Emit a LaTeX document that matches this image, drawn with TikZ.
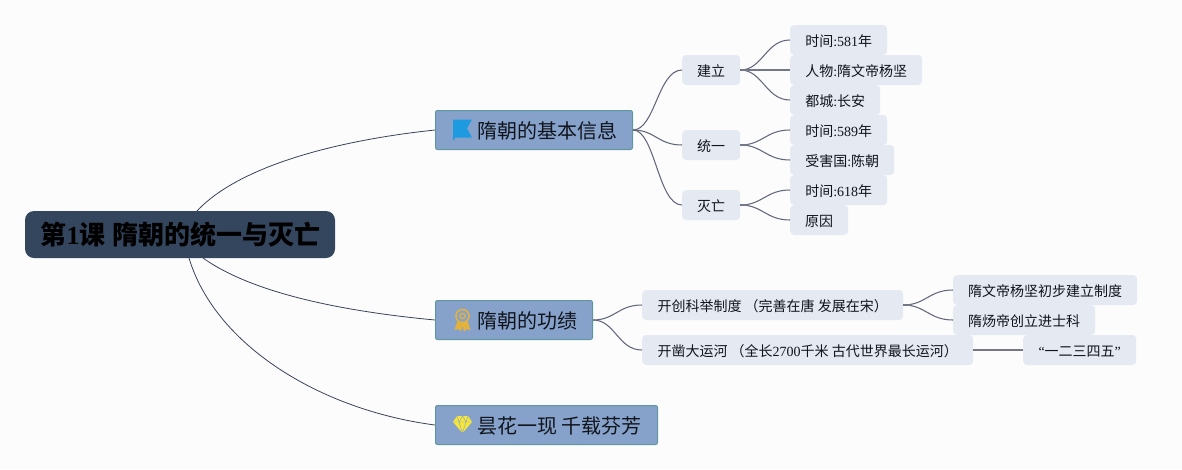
\documentclass[tikz,border=0pt]{standalone}
\usepackage{fontspec}
\usetikzlibrary{calc}
\setmainfont{Noto Sans CJK SC}
\newfontfamily\lat{Liberation Serif}
\newcommand{\La}[1]{{\lat #1}}
\definecolor{pagebg}{HTML}{FCFCFD}
\definecolor{rootfill}{HTML}{34465E}
\definecolor{mainfill}{HTML}{87A2CA}
\definecolor{mainedge}{HTML}{5F979F}
\definecolor{subfill}{HTML}{E4E9F2}
\definecolor{linkdark}{HTML}{3A4358}
\definecolor{linksub}{HTML}{626679}
\definecolor{linkstub}{HTML}{73778A}
\definecolor{flagc}{HTML}{1E9BE0}
\definecolor{medalc}{HTML}{E3B23C}
\definecolor{gemc}{HTML}{F6E63C}
\definecolor{inktext}{HTML}{10141C}
\tikzset{
  x=1pt,y=-1pt,
  rootbox/.style={fill=rootfill,rounded corners=9pt,minimum width=310pt,minimum height=47pt,inner sep=0pt,text height=20.8pt,text depth=0pt,font=\fontsize{26}{28}\selectfont\bfseries,text=black},
  mainbox/.style={fill=mainfill,draw=mainedge,line width=1pt,rounded corners=2pt,minimum height=39pt,inner sep=0pt,text height=17.2pt,text depth=0pt,font=\fontsize{20}{24}\selectfont,text=inktext,anchor=west},
  subbox/.style={fill=subfill,rounded corners=4pt,minimum height=30pt,inner sep=0pt,text height=12.6pt,text depth=0pt,font=\fontsize{14}{17}\selectfont,text=inktext,anchor=west},
  toplink/.style={draw=linkdark,line width=0.8pt},
  sublink/.style={draw=linksub,line width=1.05pt},
  stublink/.style={draw=linkstub,line width=1.7pt},
}
\begin{document}
\begin{tikzpicture}
\useasboundingbox (0,0) rectangle (1182,469);
\fill[pagebg] (0,0) rectangle (1182,469);
\coordinate (rs1) at (197,211);
\coordinate (rs2) at (203,258);
\coordinate (rs3) at (189,258);
\node[rootbox] (root) at (180,234.5) {\hspace{1pt}第\La{1}课\hspace{1pt} 隋朝的统一与灭亡};
\node[mainbox,minimum width=197pt] (m1) at (435,130) {\hspace{26pt}隋朝的基本信息};
\node[mainbox,minimum width=157pt] (m2) at (435,320) {\hspace{26pt}隋朝的功绩};
\node[mainbox,minimum width=222pt] (m3) at (435,425) {\hspace{26pt}昙花一现 千载芬芳};
\node[subbox,minimum width=58pt] (a1) at (682,70) {建立};
\node[subbox,minimum width=58pt] (a2) at (682,145) {统一};
\node[subbox,minimum width=58pt] (a3) at (682,205) {灭亡};
\node[subbox,minimum width=97pt] (b1) at (790,40) {时间\La{:581}年};
\node[subbox,minimum width=132pt] (b2) at (790,70) {人物\La{:}隋文帝杨坚};
\node[subbox,minimum width=90pt] (b3) at (790,100) {都城\La{:}长安};
\node[subbox,minimum width=97pt] (b4) at (790,130) {时间\La{:589}年};
\node[subbox,minimum width=104pt] (b5) at (790,160) {受害国\La{:}陈朝};
\node[subbox,minimum width=97pt] (b6) at (790,190) {时间\La{:618}年};
\node[subbox,minimum width=58pt] (b7) at (790,220) {原因};
\node[subbox,minimum width=261pt] (c1) at (642,305) {开创科举制度 （完善在唐 发展在宋）};
\node[subbox,minimum width=331pt] (c2) at (642,350) {开凿大运河 （全长\La{2700}千米 古代世界最长运河）};
\node[subbox,minimum width=184pt] (d1) at (953,290) {隋文帝杨坚初步建立制度};
\node[subbox,minimum width=142pt] (d2) at (953,320) {隋炀帝创立进士科};
\node[subbox,minimum width=113pt] (d3) at (1023,350) {\La{“}一二三四五\La{”}};
\draw[toplink] (rs1) .. controls (240,165) and (340,140) .. (m1.west);
\draw[toplink] (rs2) .. controls (255,295) and (350,312) .. (m2.west);
\draw[toplink] (rs3) .. controls (215,345) and (320,410) .. (m3.west);
\foreach \k in {a1,a2,a3}{\draw[sublink] (m1.east) .. controls +(22,0) and ($(\k.west)+(-24,0)$) .. (\k.west);}
\foreach \k in {b1,b2,b3}{\draw[sublink] (a1.east) .. controls +(22,0) and ($(\k.west)+(-24,0)$) .. (\k.west);}
\foreach \k in {b4,b5}{\draw[sublink] (a2.east) .. controls +(22,0) and ($(\k.west)+(-24,0)$) .. (\k.west);}
\foreach \k in {b6,b7}{\draw[sublink] (a3.east) .. controls +(22,0) and ($(\k.west)+(-24,0)$) .. (\k.west);}
\foreach \k in {c1,c2}{\draw[sublink] (m2.east) .. controls +(22,0) and ($(\k.west)+(-24,0)$) .. (\k.west);}
\foreach \k in {d1,d2}{\draw[sublink] (c1.east) .. controls +(22,0) and ($(\k.west)+(-24,0)$) .. (\k.west);}
\draw[stublink,line width=1.3pt] (c2.east) -- (d3.west);
\draw[stublink,line width=1.3pt] (a1.east) -- (b2.west);
\foreach \k in {a1,a2,a3,c1}{\draw[stublink] (\k.east) -- +(9,0);}
\fill[flagc] (453,119.5) -- (472,119.5) -- (467,128.5) -- (472,137.5) -- (454.5,137.5) -- (454.5,140) -- (453,140) -- cycle;
\draw[medalc,line width=1.6pt] (462.5,316) circle (6.5);
\draw[medalc,line width=1.3pt] (462.5,316) circle (2.6);
\fill[medalc] (457,322) -- (454.5,330) -- (458.5,329) -- (461,331.5) -- (462.5,326) -- (464,331.5) -- (466.5,329) -- (470.5,330) -- (468,322) -- cycle;
\fill[gemc] (457,416) -- (468,416) -- (472,422) -- (462.5,433) -- (453,422) -- cycle;
\draw[mainfill,line width=0.4pt] (453,422) -- (472,422) (457,416) -- (459,422) -- (462.5,433) -- (466,422) -- (468,416) (459,422) -- (462.5,416) -- (466,422);
\end{tikzpicture}
\end{document}
